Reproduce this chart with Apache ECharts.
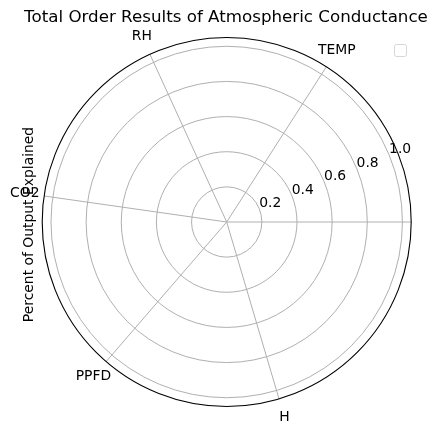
<!DOCTYPE html>
<html>
<head>
<meta charset="utf-8">
<script src="https://cdn.jsdelivr.net/npm/echarts@6/dist/echarts.min.js"></script>
<style>
  html, body { margin: 0; padding: 0; background: #fff; }
  #polarChart { width: 438px; height: 435px; }
</style>
</head>
<body>
<div id="polarChart"></div>
<script>
  // theta ticks sit at 0,1,2,3,4,5 radians
  var thetaTicks = [0, 1, 2, 3, 4, 5];
  var thetaLabels = ['', 'TEMP', 'RH', 'CO2', 'PPFD', 'H'];
  var radiusTicks = [0.2, 0.4, 0.6, 0.8, 1.0];
  var radiusMax = 1.05;

  var font = 'DejaVu Sans';
  var gridColor = '#b0b0b0';
  var center = [226.7, 222];
  var outerR = 184.5;
  var thetaLabelR = 204 / outerR * radiusMax; // labels centred a bit outside the frame

  var chart = echarts.init(document.getElementById('polarChart'));
  chart.setOption({
    backgroundColor: '#fff',
    animation: false,
    title: {
      text: 'Total Order Results of Atmospheric Conductance',
      left: 221,
      top: 4,
      textAlign: 'center',
      textStyle: { fontFamily: font, fontSize: 16.7, fontWeight: 'normal', color: '#000' }
    },
    polar: [
      { center: center, radius: outerR },
      { center: center, radius: outerR }
    ],
    angleAxis: [{
      polarIndex: 0,
      type: 'value',
      min: 0,
      max: 2 * Math.PI,
      interval: 1,
      startAngle: 0,
      clockwise: false,
      axisLine: { show: true, lineStyle: { color: '#000', width: 1.1 } },
      axisTick: { show: false },
      axisLabel: { show: false },
      splitLine: {
        show: true,
        // 7th line (6 rad) is not a real tick, hide it
        lineStyle: { color: [gridColor, gridColor, gridColor, gridColor, gridColor, gridColor, 'rgba(0,0,0,0)', gridColor], width: 1 }
      }
    }, {
      polarIndex: 1,
      type: 'value',
      min: 0,
      max: 360,
      startAngle: 22.5,
      clockwise: false,
      show: false
    }],
    radiusAxis: [{
      polarIndex: 0,
      type: 'value',
      min: 0,
      max: radiusMax,
      interval: 0.2,
      axisLine: { show: false },
      axisTick: { show: false },
      axisLabel: { show: false },
      splitLine: {
        show: true,
        lineStyle: { color: [gridColor, gridColor, gridColor, gridColor, gridColor, gridColor, 'rgba(0,0,0,0)'], width: 1 }
      }
    }, {
      polarIndex: 1,
      type: 'value',
      min: 0,
      max: radiusMax,
      interval: 0.2,
      axisLine: { show: false },
      axisTick: { show: false },
      splitLine: { show: false },
      axisLabel: {
        margin: 0,
        align: 'left',
        verticalAlign: 'bottom',
        lineHeight: 10,
        fontFamily: font,
        fontSize: 13.9,
        color: '#000',
        formatter: function (v) {
          for (var i = 0; i < radiusTicks.length; i++) {
            if (Math.abs(radiusTicks[i] - v) < 1e-6) return radiusTicks[i].toFixed(1);
          }
          return '';
        }
      }
    }],
    graphic: [{
      type: 'text',
      x: 29,
      y: 224.5,
      rotation: Math.PI / 2,
      style: {
        text: 'Percent of Output Explained',
        fontFamily: font,
        fontSize: 13.9,
        fill: '#000',
        align: 'center',
        verticalAlign: 'middle'
      }
    }, {
      // empty legend frame
      type: 'rect',
      shape: { x: 394.5, y: 44.5, width: 12, height: 12, r: 2 },
      style: { fill: '#fff', stroke: '#d6d6d6', lineWidth: 1 }
    }],
    series: [{
      // theta tick labels, centred like matplotlib does
      type: 'scatter',
      coordinateSystem: 'polar',
      polarIndex: 0,
      clip: false,
      silent: true,
      symbolSize: 0,
      data: thetaTicks.map(function (t) { return [thetaLabelR, t]; }),
      label: {
        show: true,
        position: 'inside',
        fontFamily: font,
        fontSize: 13.9,
        color: '#000',
        opacity: 1,
        textBorderWidth: 0,
        formatter: function (p) { return thetaLabels[p.dataIndex]; }
      },
      emphasis: { disabled: true }
    }]
  });
</script>
</body>
</html>
